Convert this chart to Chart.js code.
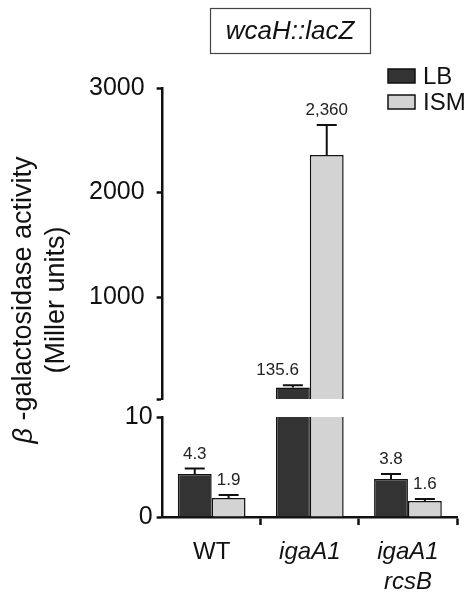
<!DOCTYPE html>
<html>
<head>
<meta charset="utf-8">
<script src="https://cdn.jsdelivr.net/npm/chart.js@4.4.0/dist/chart.umd.min.js"></script>
<style>
  html, body { margin: 0; padding: 0; background: #fff; }
</style>
</head>
<body>
<canvas id="myChart" width="466" height="597"></canvas>
<script>
// data
const categories = ['WT', 'igaA1', ['igaA1', 'rcsB']];
const lbValues = [4.3, 135.6, 3.8];
const ismValues = [1.9, 2360, 1.6];
const lbErrors = [0.55, 22, 0.5];
const ismErrors = [0.3, 285, 0.2];
const upperTicks = [1000, 2000, 3000];
const lowerTicks = [0, 5, 10];

const FONT = "'Liberation Sans', Arial, sans-serif";
const INK = '#111';
const lbColor = '#333333';
const ismColor = '#d3d3d3';

Chart.defaults.font.family = FONT;
Chart.defaults.font.size = 24;
Chart.defaults.color = INK;

// clip each dataset to its own y segment, then draw error bars + value labels
const breakPlugin = {
  id: 'breakPlugin',
  beforeDatasetDraw(chart, args) {
    const s = args.meta.vScale, a = chart.chartArea, ctx = chart.ctx;
    ctx.save();
    ctx.beginPath();
    ctx.rect(a.left, s.top, a.right - a.left, s.bottom - s.top);
    ctx.clip();
  },
  afterDatasetDraw(chart, args) {
    const ctx = chart.ctx;
    ctx.restore();
    const ds = chart.data.datasets[args.index];
    const s = args.meta.vScale;
    args.meta.data.forEach(function (bar, i) {
      const v = ds.data[i];
      if (v < s.min || v > s.max) return;
      const top = s.getPixelForValue(v + ds.errors[i]);
      ctx.save();
      ctx.strokeStyle = INK;
      ctx.lineWidth = 2;
      ctx.beginPath();
      ctx.moveTo(bar.x, bar.y);
      ctx.lineTo(bar.x, top);
      ctx.moveTo(bar.x - 10, top);
      ctx.lineTo(bar.x + 10, top);
      ctx.stroke();
      ctx.fillStyle = '#222';
      ctx.font = '17px ' + FONT;
      ctx.textBaseline = 'bottom';
      let x = bar.x;
      ctx.textAlign = 'center';
      if (ds.stack === 'LB' && ismValues[i] > v) {
        ctx.textAlign = 'right';
        x = bar.x + 6;
      }
      ctx.fillText(v.toLocaleString('en-US'), x, top - 6);
      ctx.restore();
    });
  },
  afterDraw(chart) {
    const ctx = chart.ctx, a = chart.chartArea;
    ctx.save();
    // title box
    ctx.strokeStyle = '#444';
    ctx.lineWidth = 1.2;
    ctx.strokeRect(210.5, 8.5, 160, 45);
    ctx.fillStyle = INK;
    ctx.font = 'italic 26px ' + FONT;
    ctx.textAlign = 'center';
    ctx.textBaseline = 'middle';
    ctx.fillText('wcaH::lacZ', 290, 32);

    // legend
    const items = chart.data.datasets.filter(d => d.yAxisID === 'yHigh');
    items.forEach(function (d, k) {
      const x0 = a.right - 69, y0 = 69 + k * 26;
      ctx.fillStyle = d.backgroundColor;
      ctx.fillRect(x0, y0, 27, 14);
      ctx.strokeStyle = INK;
      ctx.lineWidth = 1.5;
      ctx.strokeRect(x0, y0, 27, 14);
      ctx.fillStyle = INK;
      ctx.font = '24px ' + FONT;
      ctx.textAlign = 'left';
      ctx.fillText(d.label, x0 + 35, y0 + 8);
    });

    // y axis title
    ctx.translate(24, 300);
    ctx.rotate(-Math.PI / 2);
    ctx.textBaseline = 'middle';
    ctx.textAlign = 'left';
    ctx.font = 'italic 27px ' + FONT;
    const wb = ctx.measureText('β').width;
    ctx.font = '27px ' + FONT;
    const rest = ' -galactosidase activity';
    const wr = ctx.measureText(rest).width;
    let sx = -(wb + wr) / 2;
    ctx.font = 'italic 27px ' + FONT;
    ctx.fillText('β', sx, 0);
    ctx.font = '27px ' + FONT;
    ctx.fillText(rest, sx + wb, 0);
    ctx.textAlign = 'center';
    ctx.fillText('(Miller units)', 0, 33);
    ctx.restore();
  }
};

function barSet(label, values, errors, color, axis) {
  return {
    label: label,
    data: values,
    errors: errors,
    stack: label,
    yAxisID: axis,
    backgroundColor: color,
    borderColor: INK,
    borderWidth: 1.5,
    categoryPercentage: 0.69,
    barPercentage: 1.0
  };
}

const ctx = document.getElementById('myChart').getContext('2d');
const myChart = new Chart(ctx, {
  type: 'bar',
  data: {
    labels: categories,
    datasets: [
      barSet('LB', lbValues, lbErrors, lbColor, 'yHigh'),
      barSet('ISM', ismValues, ismErrors, ismColor, 'yHigh'),
      barSet('LB', lbValues, lbErrors, lbColor, 'yLow'),
      barSet('ISM', ismValues, ismErrors, ismColor, 'yLow')
    ]
  },
  plugins: [breakPlugin],
  options: {
    responsive: false,
    animation: false,
    layout: { padding: { left: 77, top: 88, right: 9, bottom: -12 } },
    plugins: { legend: { display: false }, tooltip: { enabled: false } },
    scales: {
      x: {
        offset: true,
        border: { color: INK, width: 2.5 },
        grid: {
          offset: true,
          drawOnChartArea: false,
          tickLength: 8,
          tickWidth: 2.5,
          tickColor: c => (c.index === 0 ? 'rgba(0,0,0,0)' : INK)
        },
        ticks: {
          padding: 12,
          maxRotation: 0,
          font: c => ({ size: 24, style: c.index === 0 ? 'normal' : 'italic', lineHeight: 1.25 })
        }
      },
      yLow: {
        type: 'linear',
        position: 'left',
        stack: 'y',
        stackWeight: 100,
        stacked: false,
        min: 0,
        max: 10,
        border: { color: INK, width: 2.5 },
        grid: { drawOnChartArea: false, tickLength: 6, tickWidth: 2.5, tickColor: INK },
        afterBuildTicks: s => { s.ticks = lowerTicks.map(v => ({ value: v })); },
        ticks: { padding: 4, font: { size: 25 } }
      },
      yGap: {
        type: 'linear',
        display: false,
        position: 'left',
        stack: 'y',
        stackWeight: 18
      },
      yHigh: {
        type: 'linear',
        position: 'left',
        stack: 'y',
        stackWeight: 311,
        stacked: false,
        min: 25,
        max: 3000,
        border: { color: INK, width: 2.5 },
        grid: { drawOnChartArea: false, tickLength: 6, tickWidth: 2.5, tickColor: INK },
        afterBuildTicks: s => { s.ticks = [{ value: s.min }].concat(upperTicks.map(v => ({ value: v }))); },
        ticks: { padding: 12, font: { size: 25 }, callback: v => (upperTicks.includes(v) ? v : '') }
      }
    }
  }
});
</script>
</body>
</html>
